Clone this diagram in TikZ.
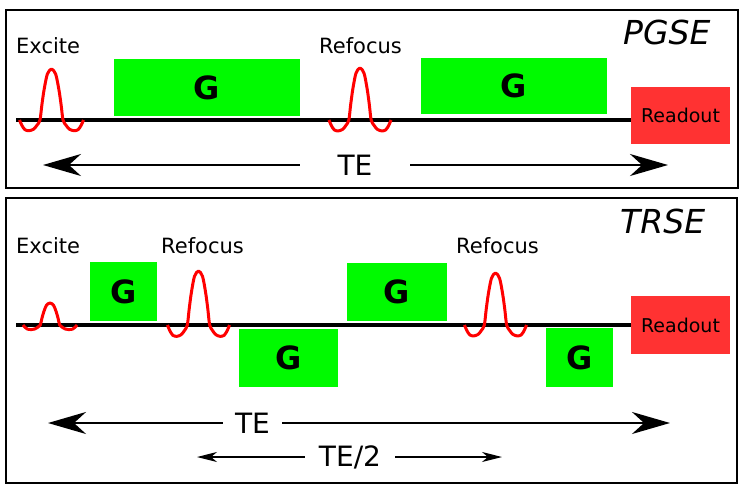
\documentclass[tikz,border=0pt]{standalone}
\usepackage{fontspec}
\setmainfont{DejaVu Sans}
\usetikzlibrary{arrows.meta}

\definecolor{gradgreen}{RGB}{0,250,0}
\definecolor{readred}{RGB}{255,50,50}

\tikzset{
  frame/.style={draw=black, line width=2pt},
  seqline/.style={draw=black, line width=3.5pt},
  pulse/.style={draw=red, line width=3pt, line join=round},
  gbox/.style={fill=gradgreen, inner sep=0pt, font=\fontsize{32}{36}\selectfont\bfseries},
  readbox/.style={fill=readred, inner sep=0pt, font=\fontsize{19}{22}\selectfont},
  lbl/.style={anchor=base west, inner sep=0pt, font=\fontsize{21}{25}\selectfont},
  seqname/.style={anchor=base west, inner sep=0pt, font=\fontsize{33}{38}\selectfont\itshape},
  tetext/.style={inner sep=0pt, font=\fontsize{28}{32}\selectfont},
  bigarrow/.style={line width=2pt, -{Stealth[length=38pt, width=22pt, inset=12pt]}},
  smallarrow/.style={line width=1.3pt, -{Stealth[length=20pt, width=10pt, inset=6pt]}}
}

% #1 = centre x, #2 = baseline y, #3 = height, #4 = half width
\newcommand{\rfpulse}[4]{%
  \draw[pulse] plot[smooth, tension=0.5] coordinates {
    ({#1-#4},{#2}) ({#1-0.93*#4},{#2+0.1*#3}) ({#1-0.83*#4},{#2+0.19*#3})
    ({#1-0.7*#4},{#2+0.21*#3}) ({#1-0.56*#4},{#2+0.18*#3})
    ({#1-0.45*#4},{#2+0.1*#3}) ({#1-0.36*#4},{#2})
    ({#1-0.3*#4},{#2-0.3*#3}) ({#1-0.23*#4},{#2-0.6*#3})
    ({#1-0.13*#4},{#2-0.9*#3}) ({#1},{#2-#3})
    ({#1+0.13*#4},{#2-0.9*#3}) ({#1+0.23*#4},{#2-0.6*#3})
    ({#1+0.3*#4},{#2-0.3*#3}) ({#1+0.36*#4},{#2})
    ({#1+0.45*#4},{#2+0.1*#3}) ({#1+0.56*#4},{#2+0.18*#3})
    ({#1+0.7*#4},{#2+0.21*#3}) ({#1+0.83*#4},{#2+0.19*#3})
    ({#1+0.93*#4},{#2+0.1*#3}) ({#1+#4},{#2})};}

\begin{document}
\begin{tikzpicture}[x=1pt, y=-1pt]
  \useasboundingbox (0,0) rectangle (740,488);

  % PGSE
  \draw[frame] (6,10) rectangle (738,188);
  \node[seqname] (pgse) at (623,44) {PGSE};
  \node[lbl] (exciteA) at (16,53) {Excite};
  \node[lbl] (refocA) at (319,53) {Refocus};

  \node[readbox, minimum width=99pt, minimum height=57pt] (readA) at (680.5,115.5) {Readout};
  \coordinate (startA) at (16,120);
  \draw[seqline] (startA) -- (startA -| readA.west);

  \node[gbox, minimum width=186pt, minimum height=57pt] (gA) at (207,87.5) {G};
  \node[gbox, minimum width=186pt, minimum height=56pt] (gB) at (514,86) {G};

  \rfpulse{51.5}{120}{51}{32}
  \rfpulse{360}{120}{52}{31}

  \node[tetext, minimum width=110pt] (teA) at (355,165) {TE};
  \coordinate (teAl) at (43,165);
  \coordinate (teAr) at (668,165);
  \draw[bigarrow] (teA.west) -- (teAl);
  \draw[bigarrow] (teA.east) -- (teAr);

  % TRSE
  \draw[frame] (6,198) rectangle (737,483);
  \node[seqname] (trse) at (620,233) {TRSE};
  \node[lbl] (exciteB) at (16,253) {Excite};
  \node[lbl] (refocB) at (161,253) {Refocus};
  \node[lbl] (refocC) at (456,253) {Refocus};

  \node[readbox, minimum width=99pt, minimum height=58pt] (readB) at (680.5,325) {Readout};
  \coordinate (startB) at (16,325);
  \draw[seqline] (startB) -- (startB -| readB.west);

  \node[gbox, minimum width=67pt, minimum height=59pt] (gC) at (123.5,291.5) {G};
  \node[gbox, minimum width=99pt, minimum height=58pt] (gD) at (288.5,358) {G};
  \node[gbox, minimum width=100pt, minimum height=58pt] (gE) at (397,292) {G};
  \node[gbox, minimum width=67pt, minimum height=59pt] (gF) at (579.5,357.5) {G};

  \rfpulse{50}{325}{22}{27}
  \rfpulse{198.5}{325}{54}{31}
  \rfpulse{495.5}{325}{52}{31}

  \node[tetext, minimum width=59pt] (teB) at (252.5,423) {TE};
  \coordinate (teBl) at (48,423);
  \coordinate (teBr) at (670,423);
  \draw[bigarrow] (teB.west) -- (teBl);
  \draw[bigarrow] (teB.east) -- (teBr);

  \node[tetext, minimum width=90pt] (halfte) at (350,457) {TE/2};
  \coordinate (halfl) at (197,457);
  \coordinate (halfr) at (502,457);
  \draw[smallarrow] (halfte.west) -- (halfl);
  \draw[smallarrow] (halfte.east) -- (halfr);
\end{tikzpicture}
\end{document}
